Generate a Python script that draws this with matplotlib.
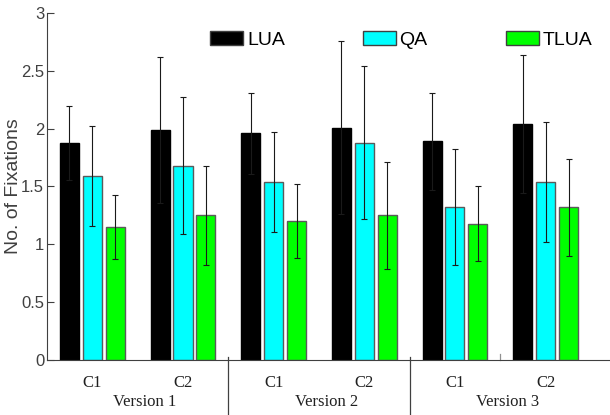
import numpy as np
import matplotlib
matplotlib.use("Agg")
import matplotlib.pyplot as plt
from matplotlib.patches import Patch

# Datos
condiciones = ["C1", "C2", "C1", "C2", "C1", "C2"]
versiones = ["Version 1", "Version 2", "Version 3"]
series = ["LUA", "QA", "TLUA"]

lua = [1.88, 1.99, 1.96, 2.01, 1.89, 2.04]
lua_err = [0.32, 0.63, 0.35, 0.75, 0.42, 0.60]
qa = [1.59, 1.68, 1.54, 1.88, 1.32, 1.54]
qa_err = [0.43, 0.59, 0.43, 0.66, 0.50, 0.52]
tlua = [1.15, 1.25, 1.20, 1.25, 1.18, 1.32]
tlua_err = [0.28, 0.43, 0.32, 0.46, 0.32, 0.42]

colores = ["#000000", "#00ffff", "#00ff00"]

fig = plt.figure(figsize=(6.1, 4.15), dpi=100)
ax = fig.add_axes([47 / 610, 55 / 415, 563 / 610, 347 / 415])

x = np.arange(1, len(condiciones) + 1)
ancho = 0.21
paso = 0.253
err_kw = dict(ecolor="#1a1a1a", elinewidth=0.8, capsize=2.3, capthick=0.8)

for i, (vals, errs, col) in enumerate(zip([lua, qa, tlua], [lua_err, qa_err, tlua_err], colores)):
    borde = "#000000" if i == 0 else "#5a5a5a"
    ax.bar(x + (i - 1) * paso, vals, ancho, yerr=errs, color=col,
           edgecolor=borde, linewidth=1.0, error_kw=err_kw, zorder=2)

ax.set_xlim(0.5, 6.71)
ax.set_ylim(0, 3)
ax.set_yticks([0, 0.5, 1, 1.5, 2, 2.5, 3])
ax.set_yticklabels(["0", "0.5", "1", "1.5", "2", "2.5", "3"],
                   fontfamily="Liberation Sans", fontsize=12, color="#404040")
ax.tick_params(axis="y", direction="in", length=5, pad=2, color="#404040")
ax.set_xticks([])

for s in ["top", "right"]:
    ax.spines[s].set_visible(False)
ax.spines["left"].set_color("#404040")
ax.spines["bottom"].set_color("#404040")

ax.set_ylabel("No. of Fixations", fontfamily="Liberation Sans", fontsize=14,
              color="#404040", labelpad=-1)

# Etiquetas de condiciones y versiones
for xi, c in zip(x, condiciones):
    ax.text(xi, -0.2, c, ha="center", va="center", fontfamily="Liberation Serif",
            fontsize=12, color="#202020")
for k, v in enumerate(versiones):
    ax.text(2 * k + 1.58, -0.36, v, ha="center", va="center",
            fontfamily="Liberation Serif", fontsize=12, color="#202020")

# Separadores
for xs in [2.5, 4.5]:
    ax.plot([xs, xs], [0.03, -0.6], color="#404040", linewidth=0.9, clip_on=False)
ax.plot([5.5, 5.5], [0, 0.05], color="#909090", linewidth=0.9, clip_on=False)

handles = [Patch(facecolor=c, edgecolor="#404040", linewidth=1.0) for c in colores]
ax.legend(handles, series, loc="center", bbox_to_anchor=(0.629, 0.922), ncol=3,
          frameon=False, prop={"family": "Liberation Sans", "size": 14},
          handlelength=1.7, handleheight=0.75, handletextpad=0.2, columnspacing=4.0)

fig.savefig("out.png", dpi=100)
